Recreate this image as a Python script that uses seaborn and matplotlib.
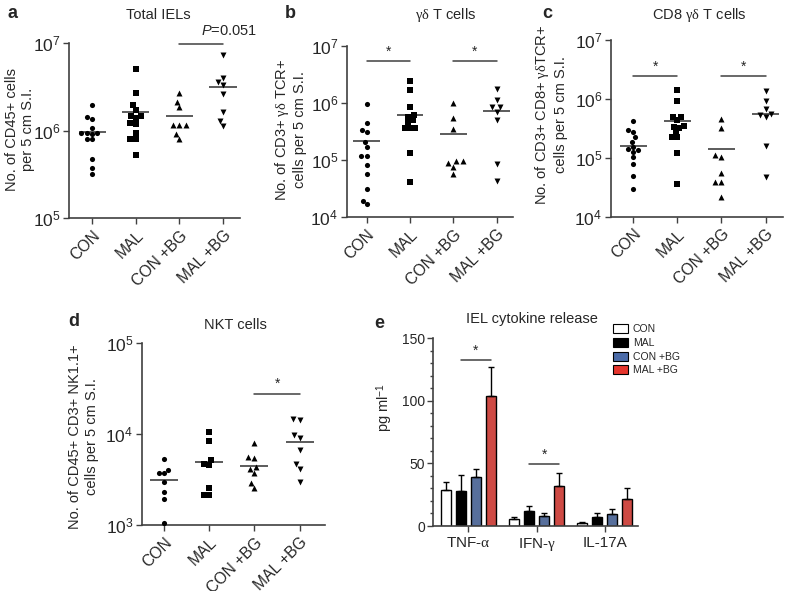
import numpy as np
import pandas as pd
import matplotlib
matplotlib.use('Agg')
import matplotlib.pyplot as plt
import seaborn as sns
from matplotlib.ticker import LogLocator, NullLocator, MultipleLocator
from matplotlib.patches import Patch

sns.set_theme(style='ticks')
plt.rcParams['font.family'] = ['Liberation Sans', 'DejaVu Sans']
plt.rcParams['mathtext.fontset'] = 'custom'
plt.rcParams['mathtext.rm'] = 'Liberation Sans'
plt.rcParams['mathtext.it'] = 'Liberation Serif'
plt.rcParams['mathtext.sf'] = 'Liberation Sans:italic'

groups = ['CON', 'MAL', 'CON +BG', 'MAL +BG']
markers = ['o', 's', '^', 'v']
msizes = [3.7, 3.7, 4.3, 4.3]

# a: total IELs
a_con = [1.95e6, 1.43e6, 1.37e6, 1.08e6, 0.95e6, 0.94e6, 0.93e6, 0.94e6, 0.81e6, 0.80e6, 0.48e6, 0.38e6, 0.32e6]
a_mal = [5.07e6, 2.70e6, 1.95e6, 1.75e6, 1.48e6, 1.47e6, 1.40e6, 1.22e6, 1.19e6, 0.94e6, 0.80e6, 0.80e6, 0.53e6]
a_conbg = [2.70e6, 2.16e6, 1.87e6, 1.17e6, 1.17e6, 1.17e6, 0.92e6, 0.80e6]
a_malbg = [7.39e6, 4.06e6, 3.65e6, 3.33e6, 2.65e6, 1.62e6, 1.28e6, 1.12e6]
a_mean = [0.97e6, 1.64e6, 1.48e6, 3.13e6]

# b: gd T cells
b_con = [9.44e5, 4.52e5, 3.37e5, 3.1e5, 2.10e5, 1.72e5, 1.18e5, 1.18e5, 8.2e4, 5.7e4, 3.1e4, 1.96e4, 1.71e4]
b_mal = [2.45e6, 1.65e6, 8.6e5, 6.1e5, 5.6e5, 5.0e5, 4.5e5, 3.7e5, 3.7e5, 3.7e5, 1.32e5, 4.2e4]
b_conbg = [1.01e6, 5.4e5, 3.45e5, 9.5e4, 9.5e4, 8.8e4, 7.7e4, 5.7e4]
b_malbg = [1.73e6, 1.12e6, 8.6e5, 8.4e5, 7.0e5, 5.0e5, 8.6e4, 4.3e4]
b_mean = [2.19e5, 6.15e5, 2.86e5, 7.2e5]

# c: CD8 gd T cells
c_con = [4.27e5, 2.96e5, 2.78e5, 2.23e5, 1.88e5, 1.55e5, 1.41e5, 1.36e5, 1.27e5, 1.04e5, 7.8e4, 4.9e4, 3.0e4]
c_mal = [1.42e6, 9.3e5, 4.99e5, 4.86e5, 4.38e5, 3.47e5, 3.38e5, 3.25e5, 2.78e5, 2.29e5, 2.29e5, 1.22e5, 3.6e4]
c_conbg = [4.6e5, 3.16e5, 1.12e5, 1.05e5, 5.6e4, 3.9e4, 3.9e4, 2.19e4]
c_malbg = [1.38e6, 9.3e5, 6.65e5, 5.47e5, 5.26e5, 5.0e5, 1.58e5, 4.8e4]
c_mean = [1.61e5, 4.22e5, 1.43e5, 5.55e5]

# d: NKT cells
d_con = [5.28e3, 4.04e3, 3.77e3, 3.72e3, 2.96e3, 2.32e3, 1.93e3, 1.07e3]
d_mal = [1.04e4, 8.45e3, 5.19e3, 4.75e3, 4.6e3, 2.58e3, 2.15e3, 2.15e3]
d_conbg = [8.03e3, 5.56e3, 5.42e3, 4.39e3, 4.14e3, 3.71e3, 2.89e3, 2.54e3]
d_malbg = [1.45e4, 1.42e4, 9.75e3, 8.97e3, 6.68e3, 4.69e3, 4.14e3, 3.0e3]
d_mean = [3.14e3, 4.98e3, 4.5e3, 8.17e3]

# significance bars: (group i, group j, height, text)
a_sig = [(2, 3, 9.7e6, r'$\mathsf{P}$=0.051')]
b_sig = [(0, 1, 5.5e6, '*'), (2, 3, 5.5e6, '*')]
c_sig = [(0, 1, 2.45e6, '*'), (2, 3, 2.45e6, '*')]
d_sig = [(2, 3, 2.74e4, '*')]

# e: cytokine release (pg/ml)
cytokines = [r'TNF-$\alpha$', r'IFN-$\gamma$', 'IL-17A']
con_pg = [29.0, 5.7, 2.7]
mal_pg = [28.0, 11.8, 6.8]
conbg_pg = [38.9, 7.6, 9.6]
malbg_pg = [103.9, 32.2, 21.3]
con_sem = [6.2, 1.5, 0.8]
mal_sem = [12.4, 4.3, 3.9]
conbg_sem = [6.4, 2.9, 3.6]
malbg_sem = [22.9, 10.3, 8.8]
bar_colors = ['white', 'black', '#4b6ba8', '#e5352d']
e_sig = [(0, 132.7), (1, 49.6)]

W, H = 788, 591
ink = '#404040'


def px_axes(fig, x0, ytop, x1, ybot):
    return fig.add_axes([x0 / W, 1 - ybot / H, (x1 - x0) / W, (ybot - ytop) / H])


def style_axes(ax):
    sns.despine(ax=ax)
    for s in ['left', 'bottom']:
        ax.spines[s].set_color(ink)
        ax.spines[s].set_linewidth(1.2)
    ax.tick_params(length=4, width=1, color=ink, labelsize=10, pad=2)


def scatter_panel(ax, values, means, ylim, xlim, sigs, ylabel):
    ax.set_yscale('log')
    for i, vals in enumerate(values):
        sns.swarmplot(x=[groups[i]] * len(vals), y=vals, order=groups, marker=markers[i],
                      color='black', size=msizes[i], linewidth=0, ax=ax)
    pos = np.arange(len(groups))
    ax.hlines(means, pos - 0.31, pos + 0.31, color=ink, lw=1.2)
    for i, j, y, txt in sigs:
        ax.plot([i, j], [y, y], color=ink, lw=1.1, clip_on=False)
        if txt == '*':
            ax.text((i + j) / 2, y * 1.08, txt, ha='center', va='bottom', fontsize=10)
        else:
            ax.text((i + j) / 2 + 0.65, y * 1.2, txt, ha='center', va='bottom', fontsize=10.5)
    ax.set_ylim(*ylim)
    ax.set_xlim(*xlim)
    ax.yaxis.set_major_locator(LogLocator(base=10, numticks=10))
    ax.yaxis.set_minor_locator(NullLocator())
    ax.set_xticks(pos)
    ax.set_xticklabels(groups, rotation=45, ha='right', rotation_mode='anchor')
    ax.set_xlabel('')
    ax.set_ylabel(ylabel, fontsize=10.5)
    style_axes(ax)
    ax.tick_params(axis='y', labelsize=12.5)
    ax.tick_params(axis='x', labelsize=11.3, pad=3)


fig = plt.figure(figsize=(7.88, 5.91), dpi=100)

ax_a = px_axes(fig, 69, 43.3, 240, 218.3)
scatter_panel(ax_a, [a_con, a_mal, a_conbg, a_malbg], a_mean, (1e5, 1e7), (-0.53, 3.39), a_sig,
              'No. of CD45+ cells\nper 5 cm S.I.')
ax_a.yaxis.set_label_coords(-0.2, 0.505)

ax_b = px_axes(fig, 346.7, 45.7, 513, 217.3)
scatter_panel(ax_b, [b_con, b_mal, b_conbg, b_malbg], b_mean, (1e4, 1e7), (-0.46, 3.38), b_sig,
              'No. of CD3+ $\\gamma\\delta$ TCR+\ncells per 5 cm S.I.')
ax_b.yaxis.set_label_coords(-0.237, 0.509)

ax_c = px_axes(fig, 610.7, 40, 783.3, 216.7)
scatter_panel(ax_c, [c_con, c_mal, c_conbg, c_malbg], c_mean, (1e4, 1e7), (-0.51, 3.40), c_sig,
              'No. of CD3+ CD8+ $\\gamma\\delta$TCR+\ncells per 5 cm S.I.')
ax_c.yaxis.set_label_coords(-0.25, 0.576)

ax_d = px_axes(fig, 141.7, 342.7, 325, 525.3)
scatter_panel(ax_d, [d_con, d_mal, d_conbg, d_malbg], d_mean, (1e3, 1e5), (-0.49, 3.56), d_sig,
              'No. of CD45+ CD3+ NK1.1+\ncells per 5 cm S.I.')
ax_d.yaxis.set_label_coords(-0.235, 0.485)

# panel e
rows = []
for g, vals in zip(groups, [con_pg, mal_pg, conbg_pg, malbg_pg]):
    for c, v in zip(cytokines, vals):
        rows.append((c, g, v))
df_e = pd.DataFrame(rows, columns=['cytokine', 'group', 'pg'])

ax_e = px_axes(fig, 433.3, 338.3, 638.3, 526)
sns.barplot(data=df_e, x='cytokine', y='pg', hue='group', order=cytokines, hue_order=groups,
            palette=dict(zip(groups, bar_colors)), width=0.88, gap=0.33, edgecolor='black',
            linewidth=1, errorbar=None, legend=False, ax=ax_e)
for cont, sems in zip(ax_e.containers, [con_sem, mal_sem, conbg_sem, malbg_sem]):
    for bar, s in zip(cont, sems):
        xc = bar.get_x() + bar.get_width() / 2
        ax_e.errorbar(xc, bar.get_height(), yerr=[[0], [s]], color='black', lw=1,
                      capsize=2.5, capthick=1)
mal_bars = ax_e.containers[1]
malbg_bars = ax_e.containers[3]
for k, y in e_sig:
    x0 = mal_bars[k].get_x() + mal_bars[k].get_width() / 2
    x1 = malbg_bars[k].get_x() + malbg_bars[k].get_width() / 2
    ax_e.plot([x0, x1], [y, y], color=ink, lw=1.1)
    ax_e.text((x0 + x1) / 2, y + 2, '*', ha='center', va='bottom', fontsize=10)
ax_e.set_ylim(0, 150)
ax_e.set_xlim(-0.512, 2.49)
ax_e.yaxis.set_major_locator(MultipleLocator(50))
ax_e.yaxis.set_minor_locator(MultipleLocator(10))
ax_e.tick_params(axis='y', which='minor', length=2.5, width=1, color=ink)
ax_e.set_xlabel('')
ax_e.set_ylabel('pg ml$^{-1}$', fontsize=10.5)
ax_e.yaxis.set_label_coords(-0.185, 0.629)
style_axes(ax_e)
ax_e.tick_params(axis='x', labelsize=11, pad=3)
handles = [Patch(facecolor=c, edgecolor='black', linewidth=0.8, label=g)
           for g, c in zip(groups, bar_colors)]
ax_e.legend(handles=handles, loc='upper left', bbox_to_anchor=(0.875, 1.075), frameon=False,
            fontsize=7.5, handlelength=1.45, handleheight=0.95, handletextpad=0.5,
            labelspacing=0.35, borderpad=0, borderaxespad=0)

# titles and panel letters
titles = [('Total IELs', 158, 15), ('$\\gamma\\delta$ T cells', 446, 15),
          ('CD8 $\\gamma\\delta$ T cells', 699, 15), ('NKT cells', 235.5, 325),
          ('IEL cytokine release', 531.5, 319)]
for t, x, y in titles:
    fig.text(x / W, 1 - y / H, t, ha='center', va='center', fontsize=10.5)
letters = [('a', 13, 14), ('b', 290, 14), ('c', 547, 14), ('d', 74, 322), ('e', 379, 323)]
for t, x, y in letters:
    fig.text(x / W, 1 - y / H, t, ha='center', va='center', fontsize=13, fontweight='bold')

fig.savefig('out.png', dpi=100)
